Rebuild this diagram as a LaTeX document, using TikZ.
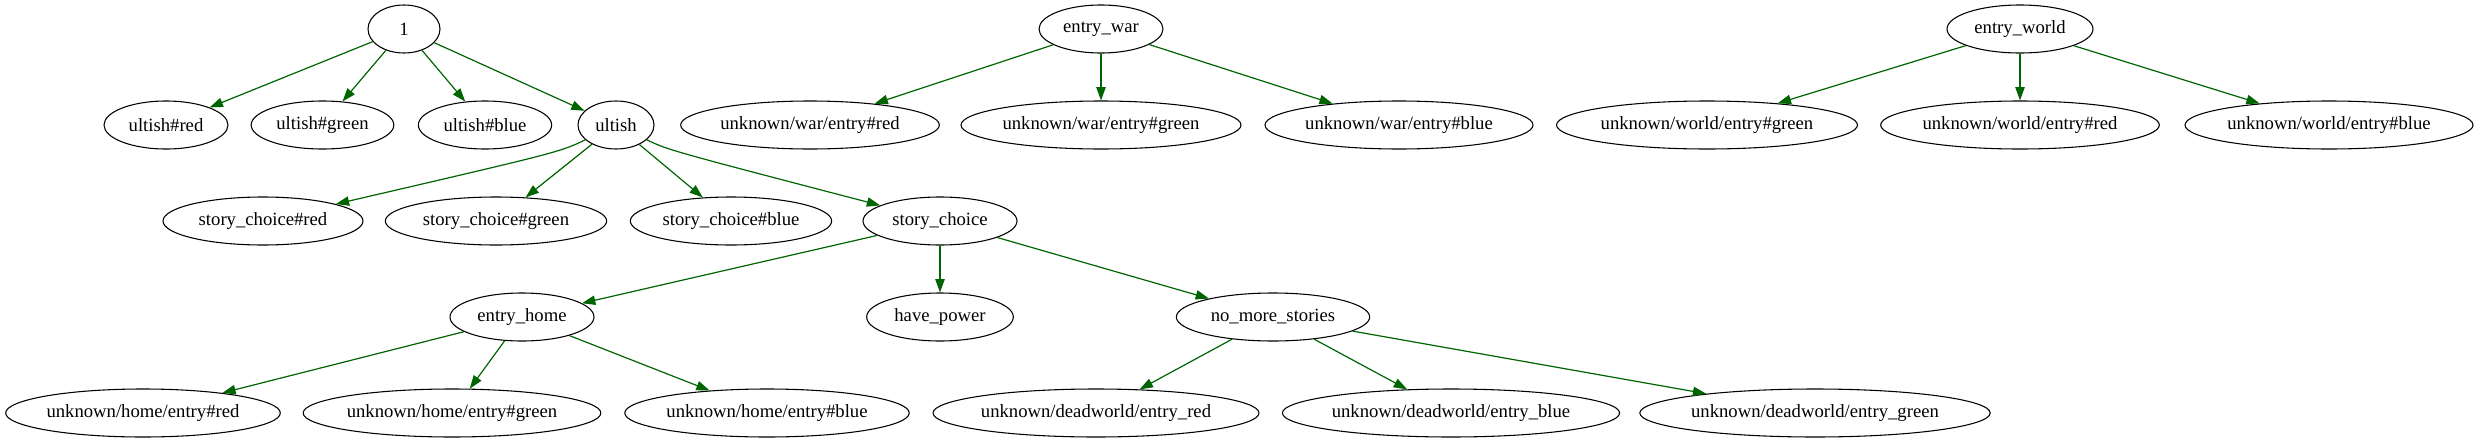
\documentclass[tikz,border=0pt]{standalone}
\usepackage{fontspec}
\setmainfont{Liberation Serif}
\usetikzlibrary{shapes.geometric,arrows.meta}
\definecolor{edgegreen}{HTML}{006400}
\tikzset{
  nd/.style={draw=black, line width=0.8pt, ellipse, inner sep=0pt, minimum height=36pt, font=\fontsize{14pt}{16pt}\selectfont},
  edge/.style={draw=edgegreen, line width=0.9pt, -{Triangle[length=10pt,width=7pt]}, fill=none},
}
\begin{document}
\begin{tikzpicture}[x=0.75pt,y=-0.75pt]
\useasboundingbox (0,0) rectangle (2478,443);
% row 0
\node[nd, minimum width=54pt] (n1) at (404,29) {1};
\node[nd, minimum width=93pt] (ew) at (1101,29) {entry\_war};
\node[nd, minimum width=109.5pt] (ewo) at (2020,29) {entry\_world};
% row 1
\node[nd, minimum width=93pt] (ur) at (166,125) {ultish\#red};
\node[nd, minimum width=107pt] (ug) at (322.5,125) {ultish\#green};
\node[nd, minimum width=100pt] (ub) at (485,125) {ultish\#blue};
\node[nd, minimum width=57pt] (ul) at (616,125) {ultish};
\node[nd, minimum width=194pt] (uwr) at (810,125) {unknown/war/entry\#red};
\node[nd, minimum width=210pt] (uwg) at (1101,125) {unknown/war/entry\#green};
\node[nd, minimum width=201pt] (uwb) at (1399,125) {unknown/war/entry\#blue};
\node[nd, minimum width=225.75pt] (uwog) at (1707,125) {unknown/world/entry\#green};
\node[nd, minimum width=209pt] (uwor) at (2020,125) {unknown/world/entry\#red};
\node[nd, minimum width=216pt] (uwob) at (2329,125) {unknown/world/entry\#blue};
% row 2
\node[nd, minimum width=150pt] (scr) at (263,221) {story\_choice\#red};
\node[nd, minimum width=166pt] (scg) at (496,221) {story\_choice\#green};
\node[nd, minimum width=151pt] (scb) at (731,221) {story\_choice\#blue};
\node[nd, minimum width=115.5pt] (sc) at (940,221) {story\_choice};
% row 3
\node[nd, minimum width=108pt] (eh) at (522,317) {entry\_home};
\node[nd, minimum width=110pt] (hp) at (940,317) {have\_power};
\node[nd, minimum width=145pt] (nms) at (1273,317) {no\_more\_stories};
% row 4
\node[nd, minimum width=206pt] (uhr) at (143,413) {unknown/home/entry\#red};
\node[nd, minimum width=223pt] (uhg) at (452,413) {unknown/home/entry\#green};
\node[nd, minimum width=213pt] (uhb) at (767,413) {unknown/home/entry\#blue};
\node[nd, minimum width=244.5pt] (udr) at (1096,413) {unknown/deadworld/entry\_red};
\node[nd, minimum width=250.5pt] (udb) at (1451,413) {unknown/deadworld/entry\_blue};
\node[nd, minimum width=259pt] (udg) at (1815,413) {unknown/deadworld/entry\_green};
% edges
\draw[edge] (n1) -- (ur);
\draw[edge] (n1) -- (ug);
\draw[edge] (n1) -- (ub);
\draw[edge] (n1) -- (ul);
\draw[edge] (ul) .. controls (560,152) .. (scr);
\draw[edge] (ul) -- (scg);
\draw[edge] (ul) -- (scb);
\draw[edge] (ul) .. controls (668,150) .. (sc);
\draw[edge] (sc) -- (eh);
\draw[edge] (sc) -- (hp);
\draw[edge] (sc) -- (nms);
\draw[edge] (eh) -- (uhr);
\draw[edge] (eh) -- (uhg);
\draw[edge] (eh) -- (uhb);
\draw[edge] (nms) -- (udr);
\draw[edge] (nms) -- (udb);
\draw[edge] (nms) -- (udg);
\draw[edge] (ew) -- (uwr);
\draw[edge] (ew) -- (uwg);
\draw[edge] (ew) -- (uwb);
\draw[edge] (ewo) -- (uwog);
\draw[edge] (ewo) -- (uwor);
\draw[edge] (ewo) -- (uwob);
\end{tikzpicture}
\end{document}
